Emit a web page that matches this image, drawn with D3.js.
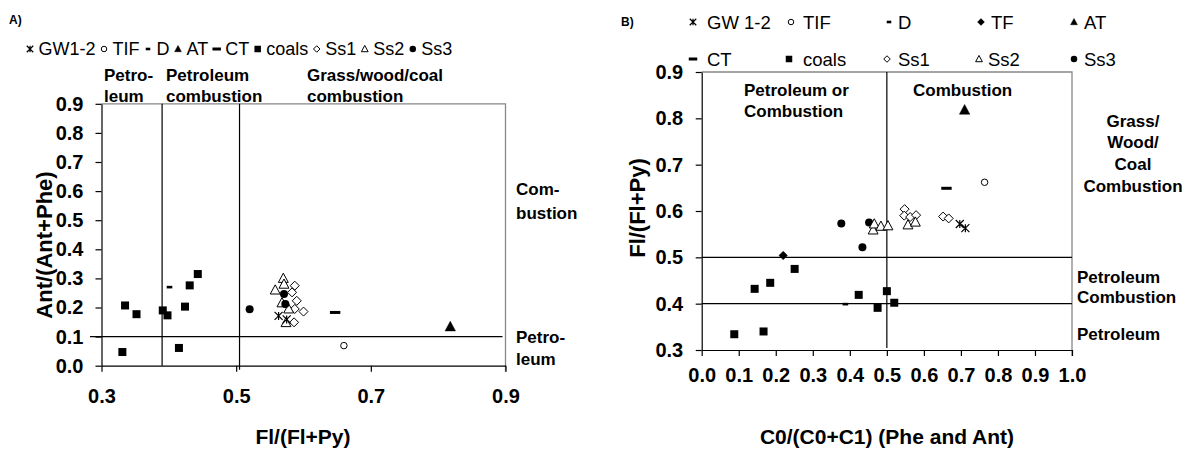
<!DOCTYPE html>
<html><head><meta charset="utf-8">
<script src="https://cdn.jsdelivr.net/npm/d3@7"></script>
<style>body{margin:0;background:#fff} text{font-family:Arial,"Liberation Sans",sans-serif;fill:#000}</style>
</head><body><svg id="c" width="1188" height="451"></svg>
<script>
// ---------- Panel A data: Fl/(Fl+Py) vs Ant/(Ant+Phe) ----------
const aGW_x=[0.563,0.575], aGW_y=[0.171,0.159];
const aTIF_x=[0.660], aTIF_y=[0.069];
const aD_x=[0.401], aD_y=[0.270];
const aAT_x=[0.818], aAT_y=[0.134];
const aCT_x=[0.647], aCT_y=[0.183];
const aCoals_x=[0.331,0.335,0.352,0.391,0.398,0.415,0.424,0.431,0.443];
const aCoals_y=[0.047,0.207,0.177,0.190,0.173,0.061,0.203,0.276,0.315];
const aSs1_x=[0.587,0.583,0.590,0.587,0.600,0.586];
const aSs1_y=[0.275,0.252,0.223,0.195,0.186,0.149];
const aSs2_x=[0.570,0.571,0.558,0.568,0.578,0.574];
const aSs2_y=[0.300,0.280,0.260,0.216,0.195,0.148];
const aSs3_x=[0.520,0.571,0.573], aSs3_y=[0.194,0.246,0.212];
const aXTicks=[0.3,0.5,0.7,0.9];
const aYTicks=[0.0,0.1,0.2,0.3,0.4,0.5,0.6,0.7,0.8,0.9];
const aVLines=[0.39,0.505], aHLines=[0.1];
const aLegend=["GW1-2","TIF","D","AT","CT","coals","Ss1","Ss2","Ss3"];
const aLegendSym=["star","circleOpen","dashShort","triFill","dashLong","square","diamondOpen","triOpen","circleFill"];

// ---------- Panel B data: C0/(C0+C1) vs Fl/(Fl+Py) ----------
const bGW_x=[0.697,0.712], bGW_y=[0.572,0.563];
const bTIF_x=[0.764], bTIF_y=[0.662];
const bD_x=[0.388], bD_y=[0.399];
const bTF_x=[0.220], bTF_y=[0.504];
const bAT_x=[0.710], bAT_y=[0.818];
const bCT_x=[0.661], bCT_y=[0.649];
const bCoals_x=[0.088,0.167,0.143,0.185,0.251,0.424,0.475,0.500,0.520];
const bCoals_y=[0.334,0.340,0.432,0.445,0.475,0.419,0.391,0.427,0.402];
const bSs1_x=[0.548,0.547,0.563,0.579,0.652,0.667];
const bSs1_y=[0.604,0.590,0.587,0.591,0.588,0.584];
const bSs2_x=[0.463,0.466,0.484,0.503,0.557,0.577];
const bSs2_y=[0.559,0.572,0.567,0.568,0.570,0.576];
const bSs3_x=[0.377,0.452,0.434], bSs3_y=[0.573,0.575,0.522];
const bXTicks=[0.0,0.1,0.2,0.3,0.4,0.5,0.6,0.7,0.8,0.9,1.0];
const bYTicks=[0.3,0.4,0.5,0.6,0.7,0.8,0.9];
const bVLines=[0.5], bHLines=[0.5,0.4];
const bLegend1=["GW 1-2","TIF","D","TF","AT"];
const bLegendSym1=["star","circleOpen","dashShort","diamondFill","triFill"];
const bLegend2=["CT","coals","Ss1","Ss2","Ss3"];
const bLegendSym2=["dashLong","square","diamondOpen","triOpen","circleFill"];

const svg=d3.select("#c");
const fmt=d3.format(".1f");
const FONT="Arial, 'Liberation Sans', sans-serif";

function marker(g,type,x,y,s){
  const k="#000";
  switch(type){
    case "square": g.append("rect").attr("x",x-s/2).attr("y",y-s/2).attr("width",s).attr("height",s).attr("fill",k); break;
    case "triFill":
    case "triOpen": {
      const p=`M${x},${y-s*0.55}L${x+s*0.52},${y+s*0.42}L${x-s*0.52},${y+s*0.42}Z`;
      g.append("path").attr("d",p).attr("fill",type==="triFill"?k:"#fff").attr("stroke",k).attr("stroke-width",type==="triFill"?0.5:1); break;}
    case "diamondOpen":
    case "diamondFill": {
      const p=`M${x},${y-s/2}L${x+s/2},${y}L${x},${y+s/2}L${x-s/2},${y}Z`;
      g.append("path").attr("d",p).attr("fill",type==="diamondFill"?k:"#fff").attr("stroke",k).attr("stroke-width",1); break;}
    case "circleFill": g.append("circle").attr("cx",x).attr("cy",y).attr("r",s/2).attr("fill",k); break;
    case "circleOpen": g.append("circle").attr("cx",x).attr("cy",y).attr("r",s/2-0.5).attr("fill","#fff").attr("stroke",k).attr("stroke-width",1); break;
    case "star": {
      const r=s/2;
      g.append("path").attr("d",`M${x-r},${y-r}L${x+r},${y+r}M${x-r},${y+r}L${x+r},${y-r}M${x},${y-r}L${x},${y+r}`)
        .attr("stroke",k).attr("stroke-width",1.2).attr("fill","none"); break;}
    case "dashShort": g.append("rect").attr("x",x-s*0.35).attr("y",y-1.3).attr("width",s*0.7).attr("height",2.6).attr("fill",k); break;
    case "dashLong": g.append("rect").attr("x",x-s*0.65).attr("y",y-1.5).attr("width",s*1.3).attr("height",3).attr("fill",k); break;
  }
}

function series(g,xs,ys,type,sx,sy,s){
  xs.forEach((v,i)=>marker(g,type,sx(v),sy(ys[i]),s));
}

// legend with fixed column positions
function legendCols(y,labels,syms,fs,symX,textX){
  const g=svg.append("g");
  labels.forEach((lab,i)=>{
    marker(g,syms[i],symX[i],y,6.5);
    g.append("text").attr("x",textX[i]).attr("y",y+fs*0.36).attr("font-size",fs).text(lab);
  });
}
// legend flowing left to right
function legendFlow(x,y,labels,syms,fs,gap){
  const g=svg.append("g");
  labels.forEach((lab,i)=>{
    marker(g,syms[i],x,y,6.5);
    const t=g.append("text").attr("x",x+gap).attr("y",y+fs*0.36).attr("font-size",fs).text(lab);
    x=x+gap+t.node().getComputedTextLength()+gap;
  });
}

function frame(g,x0,x1,y0,y1){
  g.append("path").attr("d",`M${x0},${y0}H${x1}V${y1}`).attr("fill","none").attr("stroke","#888").attr("stroke-width",1.3);
}
function styleAxis(a){
  a.selectAll("path,line").attr("stroke","#000").attr("stroke-width",1.2);
  a.selectAll("text").attr("font-size",20).attr("font-weight","bold").attr("font-family",FONT).attr("fill","#000");
}
const T=(x,y,s,o)=>{const e=svg.append("text").attr("x",x).attr("y",y).attr("font-size",o&&o.fs||17).attr("font-weight","bold").text(s); if(o&&o.anchor) e.attr("text-anchor",o.anchor); return e;};

// ================= Panel A =================
{
  const xA=d3.scaleLinear([0.3,0.9],[101.5,505.5]);
  const yA=d3.scaleLinear([0,0.9],[365.7,103.8]);
  const g=svg.append("g");
  frame(g,xA(0.3),xA(0.9),yA(0.9),yA(0)+6);
  aVLines.forEach(v=>g.append("line").attr("x1",xA(v)).attr("x2",xA(v)).attr("y1",yA(0.9)).attr("y2",yA(0)+(v>0.45?4:0)).attr("stroke","#000").attr("stroke-width",1.2));
  aHLines.forEach(v=>g.append("line").attr("x1",90).attr("x2",xA(0.9)-3).attr("y1",yA(v)).attr("y2",yA(v)).attr("stroke","#000").attr("stroke-width",1.2));
  const ax=g.append("g").attr("transform",`translate(0,${yA(0)})`).call(d3.axisBottom(xA).tickValues(aXTicks).tickFormat(fmt).tickSize(6).tickSizeOuter(0).tickPadding(17));
  const ay=g.append("g").attr("transform",`translate(${xA(0.3)},0)`).call(d3.axisLeft(yA).tickValues(aYTicks).tickFormat(fmt).tickSize(6).tickSizeOuter(0).tickPadding(12));
  styleAxis(ax); styleAxis(ay);
  const m=svg.append("g");
  series(m,aCoals_x,aCoals_y,"square",xA,yA,8);
  series(m,aD_x,aD_y,"dashShort",xA,yA,8);
  series(m,aCT_x,aCT_y,"dashLong",xA,yA,8);
  series(m,aAT_x,aAT_y,"triFill",xA,yA,10);
  series(m,aTIF_x,aTIF_y,"circleOpen",xA,yA,7.5);
  series(m,aSs1_x,aSs1_y,"diamondOpen",xA,yA,9);
  series(m,aSs2_x,aSs2_y,"triOpen",xA,yA,9.5);
  series(m,aSs3_x,aSs3_y,"circleFill",xA,yA,8);
  series(m,aGW_x,aGW_y,"star",xA,yA,8);
  T(9,24,"A)",{fs:12});
  T(104,81,"Petro-"); T(104,102,"leum");
  T(166,81,"Petroleum"); T(166,102,"combustion");
  T(307,81,"Grass/wood/coal"); T(307,102,"combustion");
  T(516,195,"Com-"); T(516,219,"bustion");
  T(516,343,"Petro-"); T(516,365,"leum");
  svg.append("text").attr("x",303).attr("y",444).attr("text-anchor","middle").attr("font-size",21).attr("font-weight","bold").text("Fl/(Fl+Py)");
  svg.append("text").attr("transform","translate(52,245) rotate(-90)").attr("text-anchor","middle").attr("font-size",22).attr("font-weight","bold").text("Ant/(Ant+Phe)");
  legendFlow(30,49,aLegend,aLegendSym,18,8.5);
}

// ================= Panel B =================
{
  const xB=d3.scaleLinear([0,1],[701.7,1072]);
  const yB=d3.scaleLinear([0.3,0.9],[350,72]);
  const g=svg.append("g");
  frame(g,xB(0),xB(1),yB(0.9),yB(0.3)+6);
  bVLines.forEach(v=>g.append("line").attr("x1",xB(v)).attr("x2",xB(v)).attr("y1",yB(0.9)).attr("y2",yB(0.3)-2).attr("stroke","#000").attr("stroke-width",1.2));
  bHLines.forEach(v=>g.append("line").attr("x1",xB(0)).attr("x2",xB(1)).attr("y1",yB(v)).attr("y2",yB(v)).attr("stroke","#000").attr("stroke-width",1.2));
  const ax=g.append("g").attr("transform",`translate(0,${yB(0.3)})`).call(d3.axisBottom(xB).tickValues(bXTicks).tickFormat(fmt).tickSize(6).tickSizeOuter(0).tickPadding(12));
  const ay=g.append("g").attr("transform",`translate(${xB(0)},0)`).call(d3.axisLeft(yB).tickValues(bYTicks).tickFormat(fmt).tickSize(6).tickSizeOuter(0).tickPadding(12.5));
  styleAxis(ax); styleAxis(ay);
  const m=svg.append("g");
  series(m,bCoals_x,bCoals_y,"square",xB,yB,8);
  series(m,bD_x,bD_y,"dashShort",xB,yB,8);
  series(m,bTF_x,bTF_y,"diamondFill",xB,yB,8);
  series(m,bCT_x,bCT_y,"dashLong",xB,yB,8);
  series(m,bAT_x,bAT_y,"triFill",xB,yB,10);
  series(m,bTIF_x,bTIF_y,"circleOpen",xB,yB,7.5);
  series(m,bSs3_x,bSs3_y,"circleFill",xB,yB,8);
  series(m,bSs1_x,bSs1_y,"diamondOpen",xB,yB,9);
  series(m,bSs2_x,bSs2_y,"triOpen",xB,yB,9.5);
  series(m,bGW_x,bGW_y,"star",xB,yB,8);
  T(621,26,"B)",{fs:12});
  T(744,96,"Petroleum or"); T(744,117,"Combustion");
  T(913,96,"Combustion");
  T(1133,127,"Grass/",{anchor:"middle"}); T(1133,148,"Wood/",{anchor:"middle"});
  T(1133,170,"Coal",{anchor:"middle"}); T(1133,192,"Combustion",{anchor:"middle"});
  T(1077,283,"Petroleum"); T(1077,303,"Combustion");
  T(1077,340,"Petroleum");
  svg.append("text").attr("x",887).attr("y",444).attr("text-anchor","middle").attr("font-size",21).attr("font-weight","bold").text("C0/(C0+C1) (Phe and Ant)");
  svg.append("text").attr("transform","translate(645,208) rotate(-90)").attr("text-anchor","middle").attr("font-size",22).attr("font-weight","bold").text("Fl/(Fl+Py)");
  legendCols(22,bLegend1,bLegendSym1,18.5,[693,791,889,981,1074],[707,803,898,991,1084]);
  legendCols(59,bLegend2,bLegendSym2,18.5,[693,789,887,979,1074],[707,803,898,988,1084]);
}
</script></body></html>
